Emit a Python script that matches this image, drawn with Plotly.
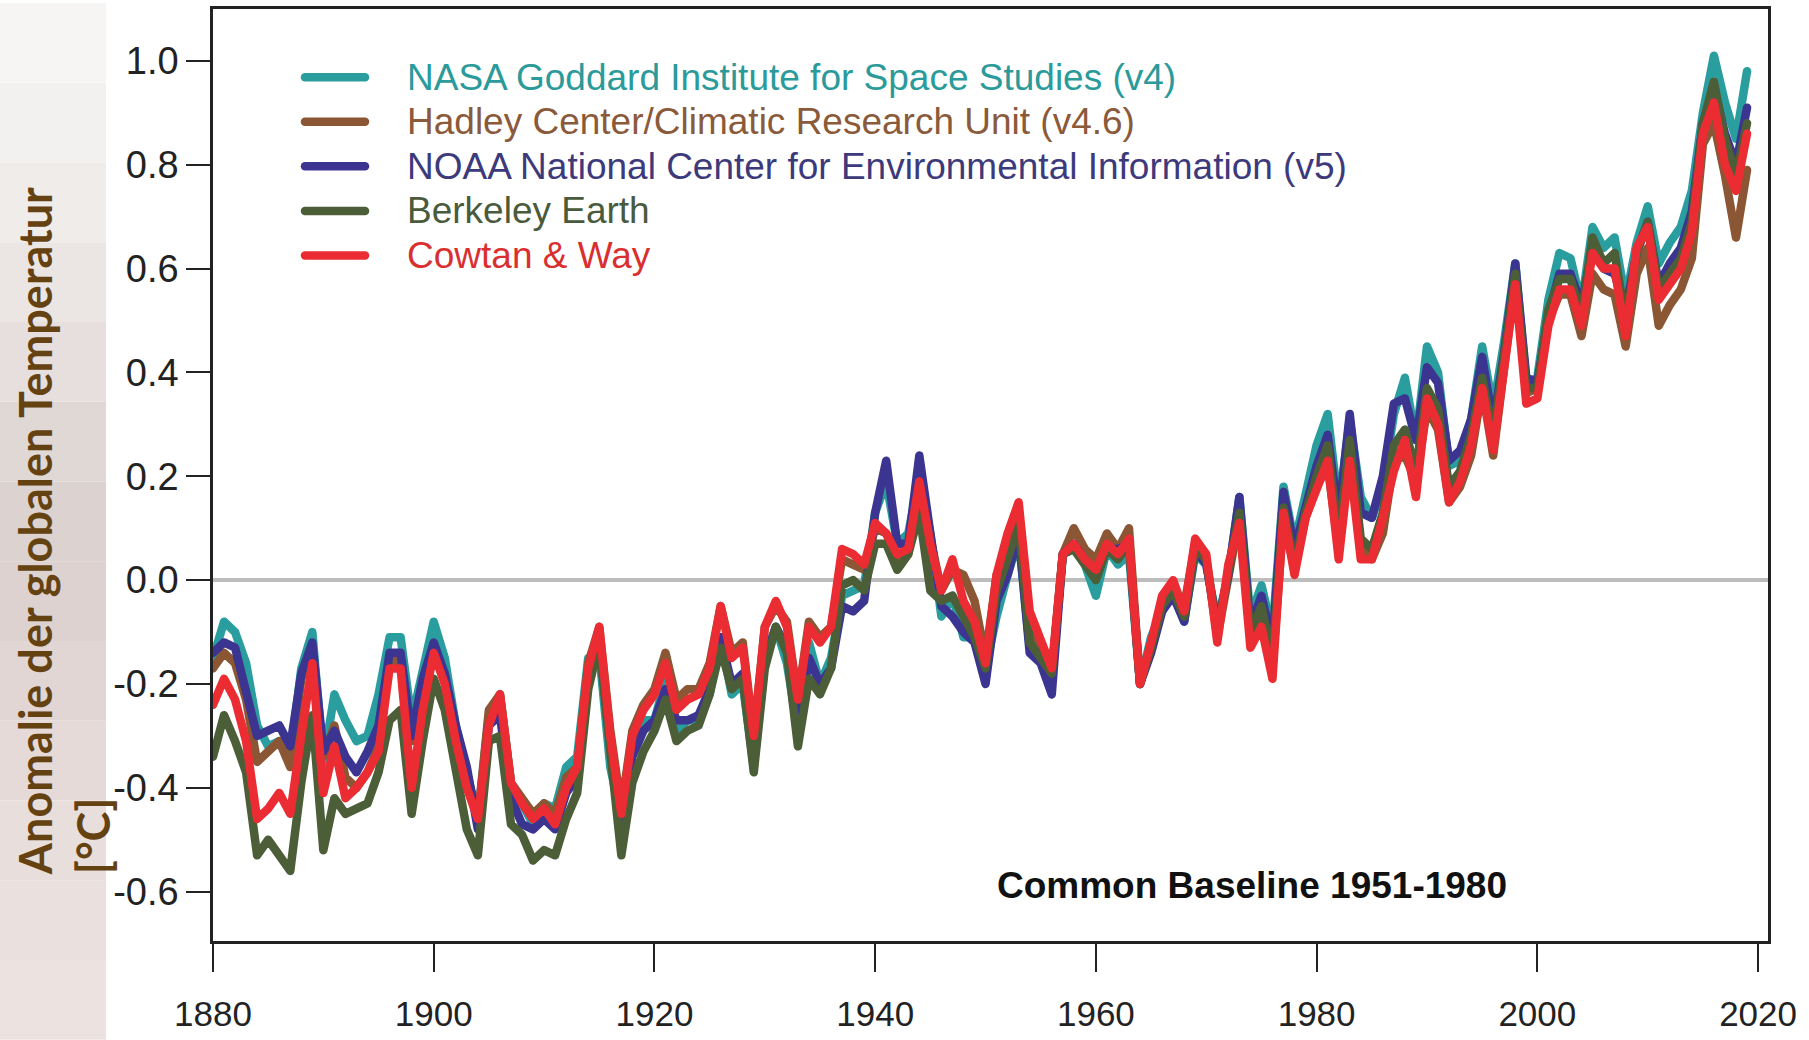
import plotly.graph_objects as go

years = list(range(1880, 2020))

nasa = [
    -0.15, -0.08, -0.10, -0.16, -0.28, -0.32, -0.31, -0.34, -0.17, -0.10,
    -0.35, -0.22, -0.27, -0.31, -0.30, -0.22, -0.11, -0.11, -0.27, -0.17,
    -0.08, -0.15, -0.28, -0.37, -0.46, -0.26, -0.22, -0.39, -0.43, -0.47,
    -0.43, -0.44, -0.36, -0.34, -0.15, -0.14, -0.36, -0.46, -0.30, -0.27,
    -0.27, -0.19, -0.29, -0.27, -0.27, -0.22, -0.11, -0.22, -0.20, -0.36,
    -0.16, -0.09, -0.16, -0.29, -0.12, -0.20, -0.15, -0.03, -0.02, -0.01,
    0.13, 0.19, 0.07, 0.09, 0.20, 0.09, -0.07, -0.03, -0.11, -0.11,
    -0.17, -0.07, 0.01, 0.08, -0.13, -0.14, -0.19, 0.05, 0.06, 0.03,
    -0.03, 0.06, 0.03, 0.05, -0.20, -0.11, -0.06, -0.02, -0.08, 0.05,
    0.03, -0.08, 0.01, 0.16, -0.07, -0.01, -0.10, 0.18, 0.07, 0.16,
    0.26, 0.32, 0.14, 0.31, 0.16, 0.12, 0.18, 0.32, 0.39, 0.27,
    0.45, 0.40, 0.22, 0.23, 0.31, 0.45, 0.33, 0.46, 0.61, 0.38,
    0.39, 0.54, 0.63, 0.62, 0.53, 0.68, 0.64, 0.66, 0.54, 0.65,
    0.72, 0.61, 0.65, 0.68, 0.75, 0.90, 1.01, 0.92, 0.85, 0.98,
]

hadley = [
    -0.17, -0.14, -0.16, -0.23, -0.35, -0.33, -0.31, -0.36, -0.19, -0.14,
    -0.34, -0.28, -0.38, -0.40, -0.37, -0.32, -0.16, -0.15, -0.31, -0.20,
    -0.14, -0.19, -0.29, -0.37, -0.46, -0.25, -0.22, -0.39, -0.42, -0.45,
    -0.43, -0.45, -0.38, -0.36, -0.16, -0.09, -0.29, -0.44, -0.29, -0.24,
    -0.21, -0.14, -0.23, -0.21, -0.21, -0.16, -0.05, -0.14, -0.12, -0.30,
    -0.09, -0.05, -0.08, -0.23, -0.08, -0.11, -0.09, 0.04, 0.03, 0.02,
    0.10, 0.09, 0.04, 0.05, 0.18, 0.07, -0.02, 0.02, 0.01, -0.04,
    -0.15, 0.01, 0.05, 0.13, -0.09, -0.13, -0.18, 0.05, 0.10, 0.06,
    0.04, 0.09, 0.06, 0.10, -0.20, -0.12, -0.05, -0.02, -0.05, 0.07,
    0.04, -0.11, 0.01, 0.12, -0.11, -0.08, -0.17, 0.12, 0.02, 0.12,
    0.18, 0.22, 0.06, 0.24, 0.06, 0.04, 0.09, 0.23, 0.24, 0.19,
    0.33, 0.29, 0.15, 0.18, 0.24, 0.37, 0.24, 0.41, 0.58, 0.36,
    0.37, 0.50, 0.55, 0.55, 0.47, 0.59, 0.56, 0.55, 0.45, 0.59,
    0.64, 0.49, 0.53, 0.56, 0.62, 0.84, 0.88, 0.78, 0.66, 0.79,
]

noaa = [
    -0.14, -0.12, -0.13, -0.21, -0.30, -0.29, -0.28, -0.32, -0.18, -0.12,
    -0.33, -0.29, -0.34, -0.37, -0.33, -0.28, -0.14, -0.14, -0.30, -0.19,
    -0.12, -0.18, -0.28, -0.36, -0.48, -0.28, -0.26, -0.42, -0.47, -0.48,
    -0.46, -0.48, -0.41, -0.38, -0.18, -0.12, -0.31, -0.46, -0.34, -0.29,
    -0.27, -0.21, -0.27, -0.27, -0.26, -0.21, -0.11, -0.20, -0.18, -0.35,
    -0.15, -0.09, -0.13, -0.29, -0.15, -0.20, -0.17, -0.05, -0.06, -0.04,
    0.13, 0.23, 0.07, 0.07, 0.24, 0.09, -0.05, -0.07, -0.10, -0.12,
    -0.20, -0.04, 0.01, 0.09, -0.14, -0.16, -0.22, 0.05, 0.07, 0.04,
    0.01, 0.06, 0.06, 0.07, -0.20, -0.14, -0.06, -0.03, -0.08, 0.06,
    0.03, -0.09, 0.01, 0.16, -0.09, -0.03, -0.12, 0.17, 0.06, 0.14,
    0.22, 0.28, 0.12, 0.32, 0.13, 0.12, 0.20, 0.34, 0.35, 0.27,
    0.41, 0.38, 0.23, 0.25, 0.31, 0.43, 0.30, 0.44, 0.61, 0.39,
    0.38, 0.51, 0.59, 0.59, 0.53, 0.64, 0.60, 0.59, 0.52, 0.63,
    0.69, 0.57, 0.61, 0.64, 0.71, 0.88, 0.95, 0.86, 0.80, 0.91,
]

berkeley = [
    -0.34, -0.26, -0.31, -0.37, -0.53, -0.50, -0.53, -0.56, -0.39, -0.26,
    -0.52, -0.42, -0.45, -0.44, -0.43, -0.37, -0.27, -0.25, -0.45, -0.31,
    -0.19, -0.25, -0.36, -0.48, -0.53, -0.31, -0.30, -0.47, -0.49, -0.54,
    -0.52, -0.53, -0.46, -0.41, -0.21, -0.12, -0.33, -0.53, -0.39, -0.33,
    -0.29, -0.23, -0.31, -0.29, -0.28, -0.22, -0.13, -0.21, -0.19, -0.37,
    -0.17, -0.09, -0.14, -0.32, -0.19, -0.22, -0.17, -0.01, 0.00, -0.02,
    0.07, 0.07, 0.02, 0.05, 0.13, -0.02, -0.04, -0.03, -0.07, -0.11,
    -0.17, -0.02, 0.04, 0.11, -0.12, -0.15, -0.18, 0.05, 0.06, 0.03,
    0.00, 0.06, 0.04, 0.07, -0.20, -0.13, -0.05, -0.02, -0.07, 0.06,
    0.04, -0.10, 0.02, 0.13, -0.10, -0.05, -0.15, 0.14, 0.03, 0.13,
    0.20, 0.26, 0.08, 0.27, 0.08, 0.06, 0.13, 0.26, 0.29, 0.21,
    0.37, 0.33, 0.18, 0.21, 0.28, 0.39, 0.28, 0.43, 0.59, 0.37,
    0.37, 0.52, 0.58, 0.58, 0.51, 0.66, 0.61, 0.63, 0.50, 0.63,
    0.69, 0.56, 0.59, 0.62, 0.69, 0.88, 0.96, 0.85, 0.78, 0.88,
]

cowtan_way = [
    -0.24, -0.19, -0.23, -0.31, -0.46, -0.44, -0.41, -0.45, -0.30, -0.16,
    -0.41, -0.32, -0.42, -0.40, -0.37, -0.33, -0.17, -0.17, -0.40, -0.25,
    -0.14, -0.20, -0.31, -0.40, -0.46, -0.28, -0.22, -0.39, -0.43, -0.46,
    -0.44, -0.47, -0.40, -0.36, -0.17, -0.09, -0.30, -0.45, -0.30, -0.25,
    -0.22, -0.16, -0.25, -0.23, -0.22, -0.17, -0.05, -0.15, -0.13, -0.30,
    -0.09, -0.04, -0.09, -0.23, -0.09, -0.12, -0.09, 0.06, 0.05, 0.03,
    0.11, 0.09, 0.05, 0.06, 0.19, 0.07, -0.02, 0.04, -0.04, -0.08,
    -0.16, 0.01, 0.09, 0.15, -0.06, -0.12, -0.17, 0.05, 0.07, 0.04,
    0.02, 0.07, 0.05, 0.08, -0.20, -0.12, -0.03, 0.00, -0.06, 0.08,
    0.05, -0.12, 0.03, 0.11, -0.13, -0.09, -0.19, 0.13, 0.01, 0.12,
    0.17, 0.23, 0.04, 0.23, 0.04, 0.04, 0.12, 0.21, 0.27, 0.16,
    0.35, 0.30, 0.15, 0.19, 0.26, 0.37, 0.25, 0.41, 0.57, 0.34,
    0.35, 0.49, 0.56, 0.56, 0.49, 0.63, 0.60, 0.60, 0.47, 0.64,
    0.68, 0.54, 0.57, 0.60, 0.67, 0.86, 0.92, 0.80, 0.75, 0.86,
]

series_names = [
    "NASA Goddard Institute for Space Studies (v4)",
    "Hadley Center/Climatic Research Unit (v4.6)",
    "NOAA National Center for Environmental Information (v5)",
    "Berkeley Earth",
    "Cowtan & Way",
]
series_values = [nasa, hadley, noaa, berkeley, cowtan_way]
line_colors = ["#2a9e9f", "#8a5634", "#3b3490", "#4b5e37", "#ec2c33"]
text_colors = ["#2b9a9a", "#8a5a3a", "#3d3a7c", "#4a5a3c", "#d9302f"]

x_tick_vals = [1880, 1900, 1920, 1940, 1960, 1980, 2000, 2020]
x_tick_labels = ["1880", "1900", "1920", "1940", "1960", "1980", "2000", "2020"]
y_tick_vals = [-0.6, -0.4, -0.2, 0.0, 0.2, 0.4, 0.6, 0.8, 1.0]
y_tick_labels = ["-0.6", "-0.4", "-0.2", "0.0", "0.2", "0.4", "0.6", "0.8", "1.0"]

y_title = "Anomalie der globalen Temperatur<br>[°C]"
baseline_note = "Common Baseline 1951-1980"

# faint photo-like strip on the far left (top -> bottom)
strip_colors = ["#f6f5f4", "#f3f1f0", "#efecea", "#ebe6e4", "#e6dfdd", "#e0d8d5",
                "#dcd2cf", "#ddd2cf", "#e1d6d3", "#e5dad7", "#e8dedb", "#eae1de", "#ece3e0"]

fig = go.Figure()
for name, vals, lc, tc in zip(series_names, series_values, line_colors, text_colors):
    fig.add_trace(go.Scatter(
        x=years, y=vals, mode="lines",
        name=f'<span style="color:{tc};font-size:37px">\u2003{name}</span>',
        line=dict(color=lc, width=8.5),
    ))

W, H = 1809, 1040
ml, mr, mt, mb = 213, 41, 6, 99
pw, ph = W - ml - mr, H - mt - mb

shapes = []
n = len(strip_colors)
for i, c in enumerate(strip_colors):
    shapes.append(dict(
        type="rect", xref="paper", yref="paper", layer="below",
        x0=(0 - ml) / pw, x1=(106 - ml) / pw,
        y0=(H - mb - (i + 1) * H / n) / ph, y1=(H - mb - i * H / n) / ph,
        fillcolor=c, line=dict(width=0),
    ))

fig.update_layout(
    width=W, height=H,
    margin=dict(l=ml, r=mr, t=mt, b=mb),
    paper_bgcolor="white", plot_bgcolor="white",
    shapes=shapes,
    showlegend=True,
    legend=dict(
        x=(300 - ml) / pw, y=(H - mb - 47) / ph, xanchor="left", yanchor="top",
        bgcolor="rgba(0,0,0,0)", borderwidth=0,
        font=dict(family="Liberation Sans, Arial, sans-serif", size=32),
        itemwidth=60, traceorder="normal",
    ),
    xaxis=dict(
        range=[1880, 2020.9], tickmode="array", tickvals=x_tick_vals, ticktext=x_tick_labels,
        ticks="outside", ticklen=28, tickwidth=2, tickcolor="#222222",
        ticklabelstandoff=12,
        showgrid=False, zeroline=False,
        showline=True, linecolor="#222222", linewidth=2.5, mirror=True,
        tickfont=dict(family="Liberation Sans, Arial, sans-serif", size=35, color="#222222"),
    ),
    yaxis=dict(
        range=[-0.695, 1.10], tickmode="array", tickvals=y_tick_vals, ticktext=y_tick_labels,
        ticks="outside", ticklen=24, tickwidth=2, tickcolor="#222222",
        showgrid=False, zeroline=True, zerolinecolor="#bdbdbd", zerolinewidth=4,
        showline=True, linecolor="#222222", linewidth=2.5, mirror=True,
        tickfont=dict(family="Liberation Sans, Arial, sans-serif", size=38, color="#222222"),
    ),
    annotations=[
        dict(text=y_title, xref="paper", yref="paper",
             x=(64 - ml) / pw, y=(H - mb - 877) / ph,
             xanchor="center", yanchor="bottom", textangle=-90, align="left",
             showarrow=False,
             font=dict(family="Lato, Liberation Sans, sans-serif", size=45, color="#654212", weight="bold")),
        dict(text=f"<b>{baseline_note}</b>", xref="paper", yref="paper",
             x=(1252 - ml) / pw, y=(H - mb - 885) / ph,
             xanchor="center", yanchor="middle", showarrow=False,
             font=dict(family="Liberation Sans, Arial, sans-serif", size=37, color="#111111")),
    ],
)

post = """
document.body.style.margin = '0';
document.body.style.padding = '0';
var gd = document.getElementById('{plot_id}');
function fixJoins(){
  gd.querySelectorAll('path.js-line').forEach(function(p){
    p.style.strokeLinejoin = 'round'; p.style.strokeLinecap = 'round';
  });
}
fixJoins();
gd.on('plotly_afterplot', fixJoins);
"""

fig.write_html("out.html", post_script=post, config={"displayModeBar": False})
